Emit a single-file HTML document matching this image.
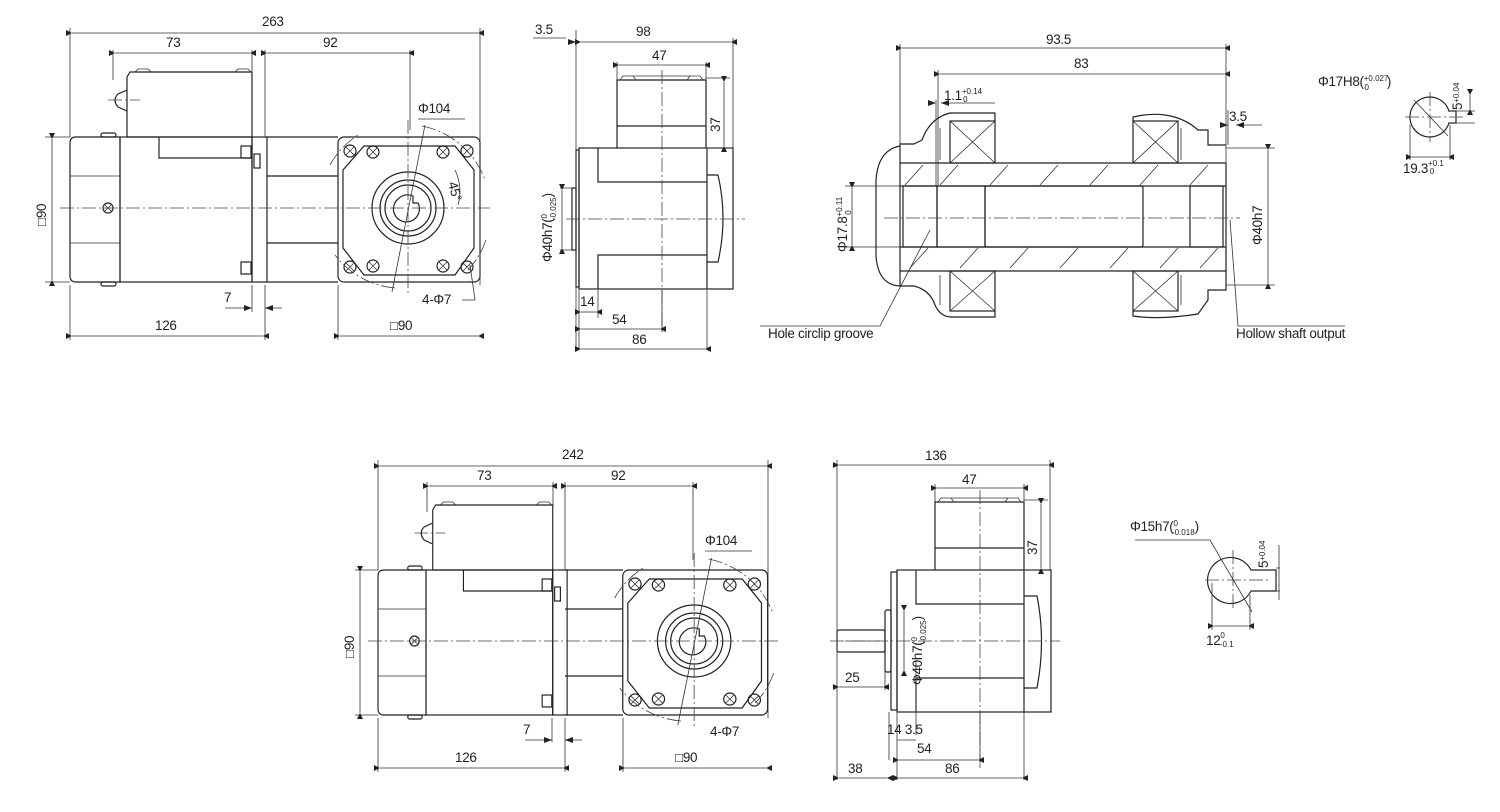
<!DOCTYPE html>
<html><head><meta charset="utf-8"><style>
html,body{margin:0;padding:0;background:#fff;}
svg{display:block;}
text{font-family:"Liberation Sans Narrow","Liberation Sans",sans-serif;font-size:13.5px;letter-spacing:-0.3px;fill:#222;}
.s{fill:none;stroke:#222;stroke-width:1.2;}
.t{fill:none;stroke:#333;stroke-width:0.8;}
.d{fill:none;stroke:#333;stroke-width:0.8;marker-start:url(#a);marker-end:url(#a);}
.c{fill:none;stroke:#444;stroke-width:0.8;stroke-dasharray:14 3 2 3;}
.sm{font-size:8px;letter-spacing:0;}
</style></head><body>
<svg width="1500" height="812" viewBox="0 0 1500 812" xmlns="http://www.w3.org/2000/svg">
<defs>
<marker id="a" viewBox="0 0 10 10" refX="0" refY="5" markerWidth="9" markerHeight="6" orient="auto-start-reverse" markerUnits="userSpaceOnUse"><path d="M10,0 L0,5 L10,10 z" fill="#222"/></marker>
<g id="motor">
 <path class="s" d="M76,137 H120 V282 H76 Q70,282 70,276 V143 Q70,137 76,137 Z"/>
 <path class="t" d="M70,176 H120 M70,243 H120"/>
 <rect class="s" x="101" y="133" width="15" height="4" rx="2"/>
 <rect class="s" x="101" y="282" width="15" height="4" rx="2"/>
 <circle class="s" cx="108" cy="208" r="5"/><path class="t" d="M105,205 l6,6 M111,205 l-6,6"/>
 <rect class="s" x="120" y="137" width="132" height="145"/>
 <path class="s" d="M159,137 V158 H252"/>
 <path class="s" d="M130,72 H252 V137 H127 V77 Z"/>
 <path class="t" d="M135,72 l3,-3 h10 l3,3 M235,72 l3,-3 h10 l3,3"/>
 <path class="s" d="M127,90 L118,94 Q112,100 118,107 L127,111"/>
 <path class="c" d="M108,100 H140"/>
 <rect class="s" x="241" y="146" width="10" height="12"/><rect class="s" x="241" y="262" width="10" height="12"/>
 <rect class="s" x="252" y="137" width="15" height="145"/>
 <rect class="s" x="254" y="154" width="6" height="14"/>
</g>
<g id="gear">
 <rect class="s" x="338" y="137" width="142" height="145" rx="6"/>
 <path class="s" d="M364,146 H455 L474,170 V248 L455,275 H364 L343,248 V170 Z"/>
 <circle class="s" cx="408" cy="208" r="36"/>
 <circle class="s" cx="408" cy="208" r="28"/>
 <circle class="s" cx="408" cy="208" r="23"/>
 <path class="s" d="M398,199 A13,13 0 1 0 418,203 H413 V196 A13,13 0 0 0 398,199 Z"/>
 <g class="s">
 <circle cx="350" cy="151" r="6"/><circle cx="467" cy="151" r="6"/><circle cx="350" cy="267" r="6"/><circle cx="467" cy="267" r="6"/>
 <circle cx="373" cy="152" r="6"/><circle cx="443" cy="152" r="6"/><circle cx="373" cy="266" r="6"/><circle cx="443" cy="266" r="6"/>
 </g>
 <path class="t" d="M346,147 l8,8 M354,147 l-8,8 M463,147 l8,8 M471,147 l-8,8 M346,263 l8,8 M354,263 l-8,8 M463,263 l8,8 M471,263 l-8,8 M369,148 l8,8 M377,148 l-8,8 M439,148 l8,8 M447,148 l-8,8 M369,262 l8,8 M377,262 l-8,8 M439,262 l8,8 M447,262 l-8,8"/>
 <path class="c" d="M422,126 A84,84 0 0 1 485,180 M486,240 A84,84 0 0 1 468,270 M395,288 A84,84 0 0 1 335,255 M330,165 A84,84 0 0 1 358,135"/>
 <path class="c" d="M408,120 V295"/>
 <path class="t" d="M425,125 L392,292"/>
</g>
</defs>

<!-- ===== TOP LEFT MOTOR ===== -->
<use href="#motor"/>
<path class="s" d="M267,137 H338 M267,282 H338 M267,176 H338 M267,243 H338"/>
<use href="#gear"/>
<path class="c" d="M60,208 H490"/>
<path class="t" d="M70,28 V137 M480,28 V285 M113,50 V80 M252,50 V72 M265,50 V137 M410,50 V130 M45,137 H70 M45,282 H70 M70,285 V340 M265,285 V340 M252,285 V312 M338,285 V340"/>
<path class="d" d="M72,33 H478"/><text x="262" y="26">263</text>
<path class="d" d="M115,53 H250"/><text x="166" y="47">73</text>
<path class="d" d="M267,53 H408"/><text x="323" y="47">92</text>
<path class="d" d="M52,139 V280"/><text transform="translate(46,226) rotate(-90)">□90</text>
<path class="t" d="M225,308 H252 M265,308 H282"/><path d="M252,308 l-8,-3 v6z M265,308 l8,-3 v6z" fill="#222"/><text x="224" y="302">7</text>
<path class="d" d="M72,336 H263"/><text x="155" y="330">126</text>
<path class="d" d="M340,336 H478"/><text x="390" y="330">□90</text>
<text x="418" y="113">Φ104</text><path class="t" d="M418,119 H465"/>
<text transform="translate(448,183) rotate(75)">45°</text>
<path class="t" d="M455,170 A50,50 0 0 1 458,205"/>
<text x="422" y="304">4-Φ7</text><path class="t" d="M462,300 H475 L470,265"/>

<!-- ===== TOP MIDDLE SIDE VIEW ===== -->
<rect class="s" x="576" y="150" width="3" height="137"/>
<rect class="s" x="572" y="188" width="4" height="62"/>
<rect class="s" x="579" y="148" width="154" height="141"/>
<path class="s" d="M598,148 V182 H707 M598,289 V255 H707 M707,148 V289"/>
<path class="s" d="M707,175 H718 Q728,218 718,262 H707"/>
<path class="s" d="M617,148 V80 H706 V148 M617,126 H706"/>
<path class="t" d="M620,80 l3,-4 h10 l3,4 M687,80 l3,-4 h10 l3,4 M623,76 H700"/>
<path class="c" d="M662,70 V330 M566,219 H745"/>
<path class="t" d="M576,30 V350 M579,290 V350 M598,290 V318 M707,290 V350 M733,38 V148 M617,62 V80 M706,62 V80 M706,78 H730 M706,148 H730 M560,188 H572 M560,250 H572 M662,290 V332"/>
<path class="d" d="M581,42 H731"/><text x="636" y="36">98</text>
<path class="t" d="M533,38 H566"/><path d="M576,42 l-8,-3 v6z" fill="#222"/><text x="535" y="34">3.5</text>
<path class="d" d="M619,65 H704"/><text x="652" y="60">47</text>
<path class="d" d="M724,82 V146"/><text transform="translate(720,132) rotate(-90)">37</text>
<path class="d" d="M562,190 V248"/><text transform="translate(552,262) rotate(-90)">Φ40h7(<tspan class="sm" dy="-5">0</tspan><tspan class="sm" dx="-6" dy="9">-0.025</tspan><tspan dy="-4">)</tspan></text>
<path class="d" d="M581,312 H596"/><text x="580" y="306">14</text>
<path class="d" d="M581,329 H660"/><text x="612" y="324">54</text>
<path class="d" d="M581,349 H705"/><text x="632" y="344">86</text>

<!-- ===== HOLLOW SHAFT SECTION ===== -->
<path class="s" d="M900,163 H1226 M900,271 H1226 M900,186 H1226 M900,247 H1226 M900,163 V271 M1226,163 V271"/>
<rect class="s" x="903" y="186" width="34" height="61"/>
<rect class="s" x="937" y="186" width="48" height="61"/>
<rect class="s" x="985" y="186" width="158" height="61" rx="2"/>
<rect class="s" x="1190" y="186" width="33" height="61"/>
<path class="t" d="M905,185 l18,-20 M940,185 l18,-20 M990,185 l18,-20 M1040,185 l18,-20 M1090,185 l18,-20 M1140,185 l18,-20 M1190,185 l18,-20 M910,268 l18,-20 M960,268 l18,-20 M1010,268 l18,-20 M1060,268 l18,-20 M1110,268 l18,-20 M1160,268 l18,-20 M1200,268 l18,-20"/>
<g class="s">
<rect x="950" y="121" width="45" height="42"/><rect x="950" y="271" width="45" height="40"/>
<rect x="1133" y="121" width="45" height="42"/><rect x="1133" y="271" width="45" height="40"/>
</g>
<path class="t" d="M950,121 L995,163 M995,121 L950,163 M950,271 L995,311 M995,271 L950,311 M1133,121 L1178,163 M1178,121 L1133,163 M1133,271 L1178,311 M1178,271 L1133,311"/>
<path class="s" d="M900,163 V144 H914 L922,140 Q930,118 950,113 H995 V121 M900,271 V286 H914 Q930,290 935,305 Q940,316 950,317 H995 V311"/>
<path class="s" d="M900,146 Q878,150 876,180 V256 Q878,285 900,286"/>
<path class="s" d="M1133,121 V117 Q1150,113 1165,115 Q1185,118 1198,130 H1208 V145 H1226 M1133,311 V316 Q1160,320 1198,314 L1208,300 V290 H1226 V271"/>
<path class="t" d="M940,128 V160 M940,275 V305 M1181,128 V160 M1181,275 V305"/>
<path class="c" d="M884,218 H1240"/>
<path class="t" d="M900,44 V163 M1226,44 V163 M938,70 V186 M1228,110 V145 M1220,125 H1228 M1236,125 H1262 M1226,148 H1275 M1226,285 H1275 M845,186 H903 M845,247 H903 M928,103 H935 M941,103 H995 M936,100 V186"/>
<path class="d" d="M902,48 H1224"/><text x="1046" y="44">93.5</text>
<path class="d" d="M940,74 H1224"/><text x="1074" y="68">83</text>
<path d="M936,103 l-8,-3 v6z M941,103 l8,-3 v6z M1228,125 l-8,-3 v6z M1236,125 l8,-3 v6z" fill="#222"/>
<text x="944" y="100">1.1<tspan class="sm" dy="-6">+0.14</tspan><tspan class="sm" dx="-19" dy="8">0</tspan></text>
<text x="1229" y="121">3.5</text>
<path class="d" d="M852,188 V245"/><text transform="translate(847,252) rotate(-90)">Φ17.8<tspan class="sm" dy="-5">+0.11</tspan><tspan class="sm" dx="-18" dy="9">0</tspan></text>
<path class="d" d="M1268,150 V283"/><text transform="translate(1262,245) rotate(-90)">Φ40h7</text>
<path class="t" d="M760,326 H880 L930,230"/><text x="768" y="338">Hole circlip groove</text>
<path class="t" d="M1230,220 L1238,326 H1345"/><text x="1236" y="338">Hollow shaft output</text>

<!-- top right small -->
<path class="s" d="M1449,111 A20,20 0 1 0 1449,123 H1456 V111 Z"/>
<path class="c" d="M1430,92 V142 M1405,117 H1465"/>
<path class="t" d="M1414,100 L1448,136 M1410,125 V160 M1450,125 V160 M1448,111 H1475 M1448,123 H1475"/>
<path class="d" d="M1412,157 H1448"/><path class="d" d="M1470,95 V109"/>
<text x="1318" y="86">Φ17H8(<tspan class="sm" dy="-5">+0.027</tspan><tspan class="sm" dx="-24" dy="9">0</tspan><tspan dx="18" dy="-4">)</tspan></text>
<text x="1403" y="173">19.3<tspan class="sm" dy="-7">+0.1</tspan><tspan class="sm" dx="-14" dy="8">0</tspan></text>
<text transform="translate(1462,110) rotate(-90)" >5<tspan class="sm" dy="-3">+0.04</tspan></text>

<!-- ===== BOTTOM LEFT MOTOR ===== -->
<use href="#motor" transform="translate(378,570) scale(0.96,1) translate(-70,-137)"/>
<path class="s" d="M565,570 H623 M565,715 H623 M565,609 H623 M565,676 H623"/>
<use href="#gear" transform="translate(278,433) scale(1.02,1)"/>
<path class="c" d="M368,641 H778"/>
<path class="t" d="M378,460 V570 M768,460 V718 M427,482 V512 M553,482 V507 M565,482 V570 M693,482 V560 M355,570 H378 M355,715 H378 M378,718 V772 M565,718 V772 M552,718 V742 M623,718 V772"/>
<path class="d" d="M380,466 H766"/><text x="562" y="459">242</text>
<path class="d" d="M429,486 H551"/><text x="477" y="480">73</text>
<path class="d" d="M567,486 H691"/><text x="611" y="480">92</text>
<path class="d" d="M360,572 V713"/><text transform="translate(354,658) rotate(-90)">□90</text>
<path class="t" d="M525,740 H552 M565,740 H582"/><path d="M552,740 l-8,-3 v6z M565,740 l8,-3 v6z" fill="#222"/><text x="523" y="734">7</text>
<path class="d" d="M380,768 H563"/><text x="455" y="762">126</text>
<path class="d" d="M625,768 H766"/><text x="675" y="762">□90</text>
<text x="705" y="545">Φ104</text><path class="t" d="M705,551 H752"/>
<text x="710" y="736">4-Φ7</text>

<!-- ===== BOTTOM SIDE VIEW ===== -->
<rect class="s" x="837" y="630" width="48" height="22" rx="2"/>
<path class="t" d="M845,641 H880"/>
<rect class="s" x="885" y="610" width="6" height="62" rx="2"/>
<rect class="s" x="891" y="572" width="6" height="138"/>
<rect class="s" x="897" y="570" width="154" height="142"/>
<path class="s" d="M916,570 V604 H1024 M916,712 V678 H1024 M1024,570 V712"/>
<path class="s" d="M1024,596 H1037 Q1046,641 1037,688 H1024"/>
<path class="s" d="M935,570 V502 H1024 V570 M935,548 H1024"/>
<path class="t" d="M938,502 l3,-4 h10 l3,4 M1005,502 l3,-4 h10 l3,4 M941,498 H1018"/>
<path class="c" d="M980,490 V770 M830,641 H1060"/>
<path class="t" d="M837,460 V780 M1050,460 V570 M935,484 V502 M1024,484 V502 M1024,500 H1048 M1024,570 H1048 M885,655 V690 M889,712 V760 M897,712 V780 M1024,712 V780 M980,712 V762 M916,660 V735"/>
<path class="d" d="M839,465 H1048"/><text x="925" y="460">136</text>
<path class="d" d="M937,488 H1022"/><text x="962" y="484">47</text>
<path class="d" d="M1041,504 V568"/><text transform="translate(1037,555) rotate(-90)">37</text>
<path class="d" d="M839,687 H883"/><text x="845" y="682">25</text>
<path class="d" d="M904,611 V670"/><text transform="translate(922,685) rotate(-90)">Φ40h7(<tspan class="sm" dy="-5">0</tspan><tspan class="sm" dx="-6" dy="9">-0.025</tspan><tspan dy="-4">)</tspan></text>
<text x="887" y="734">14 3.5</text>
<path class="t" d="M897,740 H916"/>
<path class="d" d="M899,760 H978"/><text x="917" y="753">54</text>
<path class="d" d="M839,778 H887"/><text x="848" y="773">38</text>
<path class="d" d="M899,778 H1022"/><text x="945" y="773">86</text>

<!-- bottom right small -->
<path class="s" d="M1251,570 A23,23 0 1 0 1251,591 H1276 V570 Z"/>
<path class="c" d="M1233,550 V610 M1205,580 H1268"/>
<path class="t" d="M1135,540 H1210 L1252,612 M1212,583 V630 M1250,595 V630 M1276,568 H1280 M1276,591 H1280 M1279,545 V600"/>
<path class="d" d="M1214,626 H1248"/>
<text x="1130" y="531">Φ15h7(<tspan class="sm" dy="-5">0</tspan><tspan class="sm" dx="-6" dy="9">-0.018</tspan><tspan dy="-4">)</tspan></text>
<text x="1206" y="645">12<tspan class="sm" dy="-7">0</tspan><tspan class="sm" dx="-5" dy="9">-0.1</tspan></text>
<text transform="translate(1268,568) rotate(-90)">5<tspan class="sm" dy="-3">+0.04</tspan></text>
</svg>
</body></html>
